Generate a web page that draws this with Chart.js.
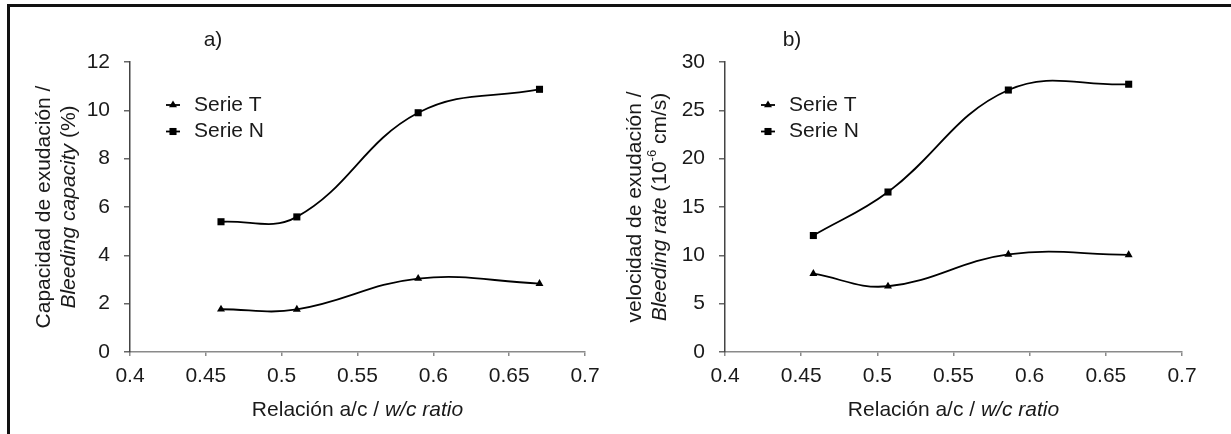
<!DOCTYPE html>
<html>
<head>
<meta charset="utf-8">
<title>Exudación</title>
<script src="https://cdn.jsdelivr.net/npm/chart.js@4.4.1/dist/chart.umd.min.js"></script>
<style>
  html, body { margin: 0; padding: 0; background: #fff; }
  body { width: 1231px; height: 434px; position: relative; overflow: hidden; }
  .frame { position: absolute; left: 7px; top: 4px; right: -5px; bottom: -5px; border-left: 3px solid #111; border-top: 3px solid #111; }
  canvas { position: absolute; top: 0; }
  #chartA { left: 0; }
  #chartB { left: 610px; }
</style>
</head>
<body>
<div class="frame"></div>
<canvas id="chartA" width="615" height="434"></canvas>
<canvas id="chartB" width="621" height="434"></canvas>
<script>
// a) capacidad de exudación
const ratioA = [0.46, 0.51, 0.59, 0.67];
const capacidadT = [1.77, 1.76, 3.04, 2.83];
const capacidadN = [5.39, 5.59, 9.9, 10.87];

// b) velocidad de exudación
const ratioB = [0.458, 0.507, 0.586, 0.665];
const velocidadT = [8.1, 6.8, 10.1, 10.05];
const velocidadN = [12.05, 16.55, 27.1, 27.7];

const serieLabels = ['Serie T', 'Serie N'];
const xTicks = { min: 0.4, max: 0.7, step: 0.05 };
const yTicksA = { min: 0, max: 12, step: 2 };
const yTicksB = { min: 0, max: 30, step: 5 };

const FONT = '"Liberation Sans", Arial, sans-serif';
const TXT = '#1a1a1a';

// draws a row of text pieces (normal / italic / superscript) centered on x
const drawPieces = (ctx, pieces, x, y, size) => {
  const fontOf = (p) => `${p.italic ? 'italic ' : ''}${p.sup ? Math.round(size * 0.62) : size}px ${FONT}`;
  let total = 0;
  pieces.forEach((p) => { ctx.font = fontOf(p); total += ctx.measureText(p.t).width; });
  let cx = x - total / 2;
  ctx.textAlign = 'left';
  ctx.textBaseline = 'middle';
  pieces.forEach((p) => {
    ctx.font = fontOf(p);
    ctx.fillText(p.t, cx, p.sup ? y - size * 0.38 : y);
    cx += ctx.measureText(p.t).width;
  });
};

const textPlugin = {
  id: 'textos',
  afterDraw(chart, args, opts) {
    const { ctx, chartArea } = chart;
    ctx.save();
    ctx.fillStyle = TXT;

    // panel label
    ctx.font = `21px ${FONT}`;
    ctx.textAlign = 'center';
    ctx.textBaseline = 'middle';
    ctx.fillText(opts.panel, opts.panelX, 40);

    // y title, two rotated lines
    const midY = (chartArea.top + chartArea.bottom) / 2;
    opts.yTitle.forEach((line, i) => {
      ctx.save();
      ctx.translate(chartArea.left - opts.yTitleGap + i * 25, midY);
      ctx.rotate(-Math.PI / 2);
      drawPieces(ctx, line, 0, 0, 21);
      ctx.restore();
    });

    // x title
    drawPieces(ctx, opts.xTitle, (chartArea.left + chartArea.right) / 2, 410, 21);

    // legend inside the plot
    chart.data.datasets.forEach((ds, i) => {
      const y = chartArea.top + 43 + i * 26.5;
      const mx = chartArea.left + 43;
      ctx.strokeStyle = '#000';
      ctx.fillStyle = '#000';
      ctx.lineWidth = 1.8;
      ctx.beginPath();
      ctx.moveTo(mx - 7, y);
      ctx.lineTo(mx + 7, y);
      ctx.stroke();
      Chart.helpers.drawPoint(ctx, {
        pointStyle: ds.pointStyle, radius: ds.pointRadius, rotation: 0, borderWidth: 0,
      }, mx, y);
      ctx.fillStyle = TXT;
      ctx.font = `21px ${FONT}`;
      ctx.textAlign = 'left';
      ctx.textBaseline = 'middle';
      ctx.fillText(ds.label, chartArea.left + 64, y);
    });
    ctx.restore();
  },
};

const serie = (label, xs, ys, style, radius) => ({
  label,
  data: xs.map((x, i) => ({ x, y: ys[i] })),
  borderColor: '#000',
  backgroundColor: '#000',
  borderWidth: 1.8,
  pointStyle: style,
  pointRadius: radius,
  pointBorderWidth: 0,
  tension: 0.4,
  fill: false,
});

const buildChart = (id, opts) => {
  const {
    xs, t, n, yTicks, yWidth, padRight, panel, panelX, yTitle, yTitleGap,
  } = opts;
  return new Chart(document.getElementById(id), {
    type: 'line',
    data: {
      datasets: [
        serie(serieLabels[0], xs, t, 'triangle', 4.6),
        serie(serieLabels[1], xs, n, 'rect', 5),
      ],
    },
    options: {
      responsive: false,
      animation: false,
      layout: { padding: { top: 62, right: padRight, bottom: 0, left: 0 } },
      plugins: {
        legend: { display: false },
        tooltip: { enabled: false },
        textos: {
          panel,
          panelX,
          yTitle,
          yTitleGap,
          xTitle: [{ t: 'Relación a/c / ' }, { t: 'w/c ratio', italic: true }],
        },
      },
      scales: {
        x: {
          type: 'linear',
          min: xTicks.min,
          max: xTicks.max,
          afterFit: (s) => { s.height = 82; },
          ticks: {
            stepSize: xTicks.step,
            color: TXT,
            font: { family: FONT, size: 21 },
            padding: 8,
            maxRotation: 0,
            callback: (v) => String(Number(v.toFixed(2))),
          },
          grid: { drawOnChartArea: false, tickLength: 4, color: '#8a8a8a', lineWidth: 1.5 },
          border: { color: '#8a8a8a', width: 1.5 },
        },
        y: {
          min: yTicks.min,
          max: yTicks.max,
          afterFit: (s) => { s.width = yWidth; },
          ticks: {
            stepSize: yTicks.step,
            color: TXT,
            font: { family: FONT, size: 21 },
            padding: 14,
          },
          grid: { drawOnChartArea: false, tickLength: 6, color: '#666', lineWidth: 1.5 },
          border: { color: '#444', width: 1.5 },
        },
      },
    },
    plugins: [textPlugin],
  });
};

buildChart('chartA', {
  xs: ratioA,
  t: capacidadT,
  n: capacidadN,
  yTicks: yTicksA,
  yWidth: 130,
  padRight: 30,
  panel: 'a)',
  panelX: 213,
  yTitleGap: 86,
  yTitle: [
    [{ t: 'Capacidad de exudación /' }],
    [{ t: 'Bleeding capacity', italic: true }, { t: ' (%)' }],
  ],
});

buildChart('chartB', {
  xs: ratioB,
  t: velocidadT,
  n: velocidadN,
  yTicks: yTicksB,
  yWidth: 115,
  padRight: 49,
  panel: 'b)',
  panelX: 182,
  yTitleGap: 90,
  yTitle: [
    [{ t: 'velocidad de exudación /' }],
    [{ t: 'Bleeding rate', italic: true }, { t: ' (10' }, { t: '-6', sup: true }, { t: ' cm/s)' }],
  ],
});
</script>
</body>
</html>
